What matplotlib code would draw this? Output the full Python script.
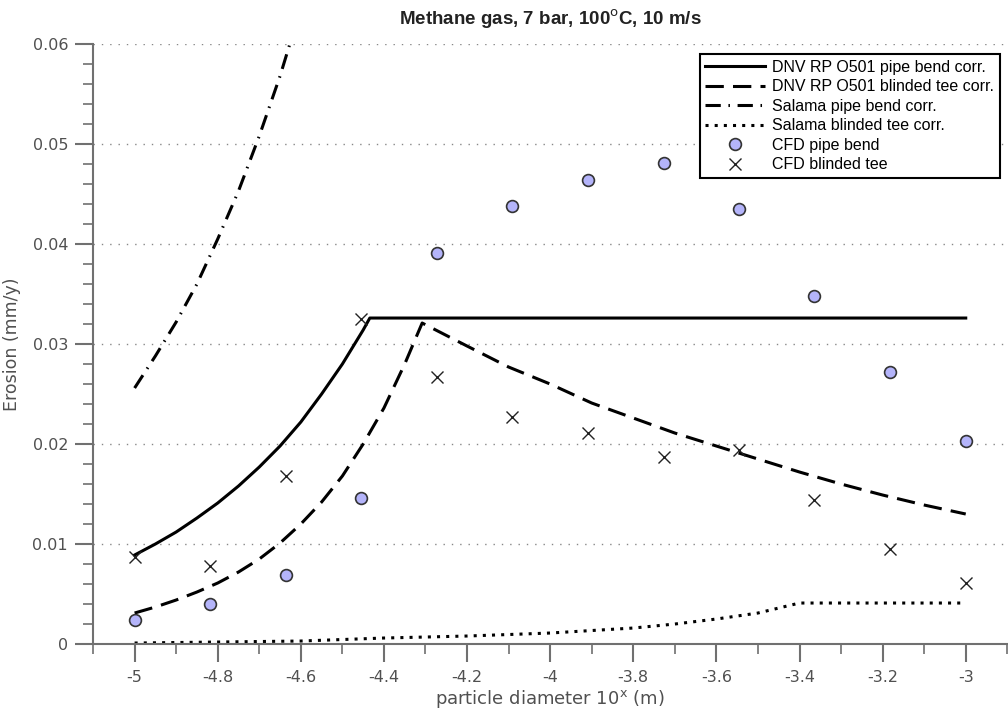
import matplotlib.pyplot as plt
from matplotlib.ticker import MultipleLocator

# CFD results (log10 of particle diameter in m)
x_cfd = [-5.0, -4.818, -4.636, -4.455, -4.273, -4.091, -3.909, -3.727, -3.545, -3.364, -3.182, -3.0]
cfd_bend = [0.0024, 0.0040, 0.0069, 0.0146, 0.0391, 0.0438, 0.0464, 0.0481, 0.0435, 0.0348, 0.0272, 0.0203]
cfd_tee = [0.0087, 0.0078, 0.0168, 0.0325, 0.0267, 0.0227, 0.0211, 0.0187, 0.0194, 0.0144, 0.0095, 0.0061]

# correlation curves
x_dnv_bend = [-5.0, -4.95, -4.9, -4.85, -4.8, -4.75, -4.7, -4.65, -4.6, -4.55, -4.5, -4.45, -4.434, -3.0]
y_dnv_bend = [0.0089, 0.0100, 0.0112, 0.0126, 0.0141, 0.0158, 0.0177, 0.0198, 0.0222, 0.0250,
              0.0280, 0.0314, 0.0326, 0.0326]

x_dnv_tee = [-5.0, -4.95, -4.9, -4.85, -4.8, -4.75, -4.7, -4.65, -4.6, -4.55, -4.5, -4.45, -4.4,
             -4.35, -4.308, -4.2, -4.1, -4.0, -3.9, -3.8, -3.7, -3.6, -3.5, -3.4, -3.3, -3.2, -3.1, -3.0]
y_dnv_tee = [0.0031, 0.0037, 0.0044, 0.0052, 0.0061, 0.0072, 0.0085, 0.0101, 0.0120, 0.0142,
             0.0168, 0.0200, 0.0236, 0.0280, 0.0321, 0.0298, 0.0277, 0.0260, 0.0241, 0.0226,
             0.0211, 0.0198, 0.0185, 0.0172, 0.0160, 0.0149, 0.0139, 0.0130]

x_sal_bend = [-5.0, -4.95, -4.9, -4.85, -4.8, -4.75, -4.7, -4.65, -4.6]
y_sal_bend = [0.0256, 0.0288, 0.0322, 0.0360, 0.0405, 0.0453, 0.0508, 0.0568, 0.0636]

x_sal_tee = [-5.0, -4.8, -4.6, -4.4, -4.2, -4.0, -3.8, -3.7, -3.6, -3.5, -3.4, -3.0]
y_sal_tee = [0.0001, 0.0002, 0.0003, 0.0006, 0.0008, 0.0011, 0.0016, 0.0020, 0.0025, 0.0031, 0.0041, 0.0041]

plt.rcParams['font.family'] = ['DejaVu Sans']
grey = '#707070'

fig = plt.figure(figsize=(10.08, 7.22), dpi=100)
ax = fig.add_axes([0.0923, 0.108, 0.907, 0.831])

lw = 2.2
ax.plot(x_dnv_bend, y_dnv_bend, color='black', lw=lw, label='DNV RP O501 pipe bend corr.')
ax.plot(x_dnv_tee, y_dnv_tee, color='black', lw=lw, dashes=(6, 3), label='DNV RP O501 blinded tee corr.')
ax.plot(x_sal_bend, y_sal_bend, color='black', lw=lw, dashes=(5, 2.5, 0.5, 2.5), label='Salama pipe bend corr.')
ax.plot(x_sal_tee, y_sal_tee, color='black', lw=lw, dashes=(1, 2), label='Salama blinded tee corr.')
ax.plot(x_cfd, cfd_bend, 'o', ms=8.5, mfc='#b4b4fa', mec='#333333', mew=1.2, label='CFD pipe bend')
ax.plot(x_cfd, cfd_tee, 'x', ms=9, color='#222222', mew=1.0, label='CFD blinded tee')

ax.set_xlim(-5.1, -2.9)
ax.set_ylim(0, 0.06)
ax.xaxis.set_minor_locator(MultipleLocator(0.1))
ax.yaxis.set_minor_locator(MultipleLocator(0.002))
ax.set_xticks([-5, -4.8, -4.6, -4.4, -4.2, -4, -3.8, -3.6, -3.4, -3.2, -3])
ax.set_xticklabels(['-5', '-4.8', '-4.6', '-4.4', '-4.2', '-4', '-3.8', '-3.6', '-3.4', '-3.2', '-3'])
ax.set_yticks([0, 0.01, 0.02, 0.03, 0.04, 0.05, 0.06])
ax.set_yticklabels(['0', '0.01', '0.02', '0.03', '0.04', '0.05', '0.06'])

ax.tick_params(which='major', direction='out', length=13, width=1.5, color=grey,
               labelsize=11.5, labelcolor='#505050', pad=5)
ax.tick_params(which='minor', direction='out', length=7, width=1.2, color=grey)
ax.tick_params(axis='x', which='major', pad=6)

ax.grid(axis='y', which='major', linestyle=(0, (1, 5)), color='#888888', lw=1.0)
for s in ['top', 'right']:
    ax.spines[s].set_visible(False)
for s in ['left', 'bottom']:
    ax.spines[s].set_color(grey)
    ax.spines[s].set_linewidth(1.5)

ax.set_title('Methane gas, 7 bar, 100$^{\\mathrm{o}}$C, 10 m/s', fontsize=13.5, fontweight='bold',
             family='Liberation Sans', color='#222222', pad=14)
ax.set_xlabel('particle diameter 10$^{\\mathrm{x}}$ (m)', fontsize=13, color='#505050', labelpad=2)
ax.set_ylabel('Erosion (mm/y)', fontsize=12.5, color='#505050', labelpad=8)

leg = ax.legend(loc='upper right', bbox_to_anchor=(0.992, 0.983), borderaxespad=0,
                prop={'family': 'Liberation Sans', 'size': 11.5},
                handlelength=3.75, handletextpad=0.45, labelspacing=0.28, borderpad=0.35,
                fancybox=False, framealpha=1, edgecolor='black')
leg.get_frame().set_linewidth(1.5)

fig.savefig('out.png', dpi=100)
